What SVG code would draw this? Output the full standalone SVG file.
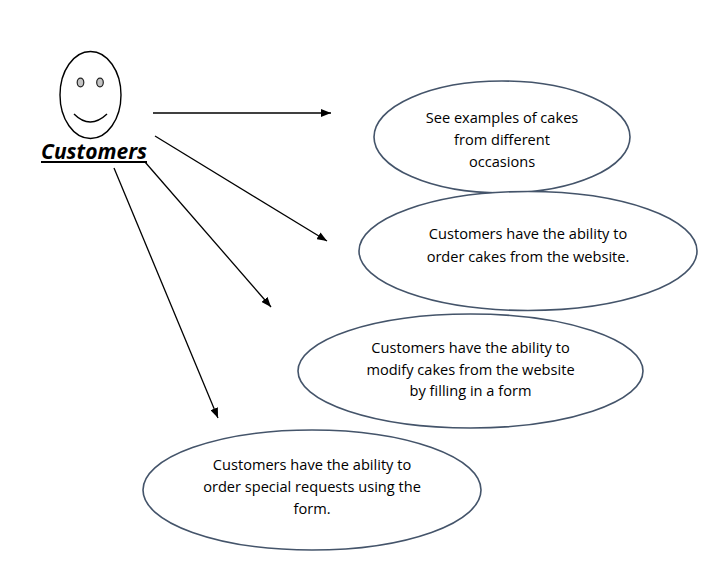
<svg xmlns="http://www.w3.org/2000/svg" width="716" height="565" viewBox="0 0 716 565">
<style>
.s{fill:#fff;stroke:#44546a;stroke-width:1.6}
.t{font-family:"Open Sans","Noto Sans",sans-serif;font-size:14.6px;fill:#000;text-anchor:middle}
.c{stroke:#000;stroke-width:1.3;fill:none;marker-end:url(#a)}
.e{fill:#c4c4c4;stroke:#222;stroke-width:1.2}
</style>
<defs><marker id="a" markerUnits="userSpaceOnUse" markerWidth="10" markerHeight="8" refX="10" refY="4" orient="auto"><path d="M0 0L10 4L0 8Z" fill="#000"/></marker></defs>
<rect width="716" height="565" fill="#fff"/>
<g id="customers">
<ellipse cx="90.500" cy="95" rx="30.500" ry="43.500" fill="#fff" stroke="#000" stroke-width="1.4"/>
<ellipse class="e" cx="80.500" cy="82.500" rx="3.300" ry="4.300"/>
<ellipse class="e" cx="100" cy="82.500" rx="3.300" ry="4.300"/>
<path d="M74 114Q90 130 107 114" fill="none" stroke="#000" stroke-width="1.4"/>
<text x="94" y="159" font-family="'Open Sans',sans-serif" font-size="21" font-weight="700" font-style="italic" text-anchor="middle" fill="#000">Customers</text>
<path d="M41 162H147" stroke="#000" stroke-width="2" fill="none"/>
</g>
<g id="connectors">
<path class="c" d="M153 113H331"/>
<path class="c" d="M155 136L327 241"/>
<path class="c" d="M145 162L271 307"/>
<path class="c" d="M114 168L218 418"/>
</g>
<g id="n1"><ellipse class="s" cx="502" cy="137" rx="128" ry="56"/><text class="t" x="502" y="123">See examples of cakes</text><text class="t" x="502" y="145">from different</text><text class="t" x="502" y="167">occasions</text></g>
<g id="n2"><ellipse class="s" cx="528" cy="251" rx="169" ry="59.500"/><text class="t" x="528" y="239">Customers have the ability to</text><text class="t" x="528" y="262">order cakes from the website.</text></g>
<g id="n3"><ellipse class="s" cx="470.500" cy="371" rx="172.500" ry="57"/><text class="t" x="470.500" y="353">Customers have the ability to</text><text class="t" x="470.500" y="375">modify cakes from the website</text><text class="t" x="470.500" y="396">by filling in a form</text></g>
<g id="n4"><ellipse class="s" cx="312" cy="490" rx="169" ry="60"/><text class="t" x="312" y="470">Customers have the ability to</text><text class="t" x="312" y="492">order special requests using the</text><text class="t" x="312" y="514">form.</text></g>
</svg>
